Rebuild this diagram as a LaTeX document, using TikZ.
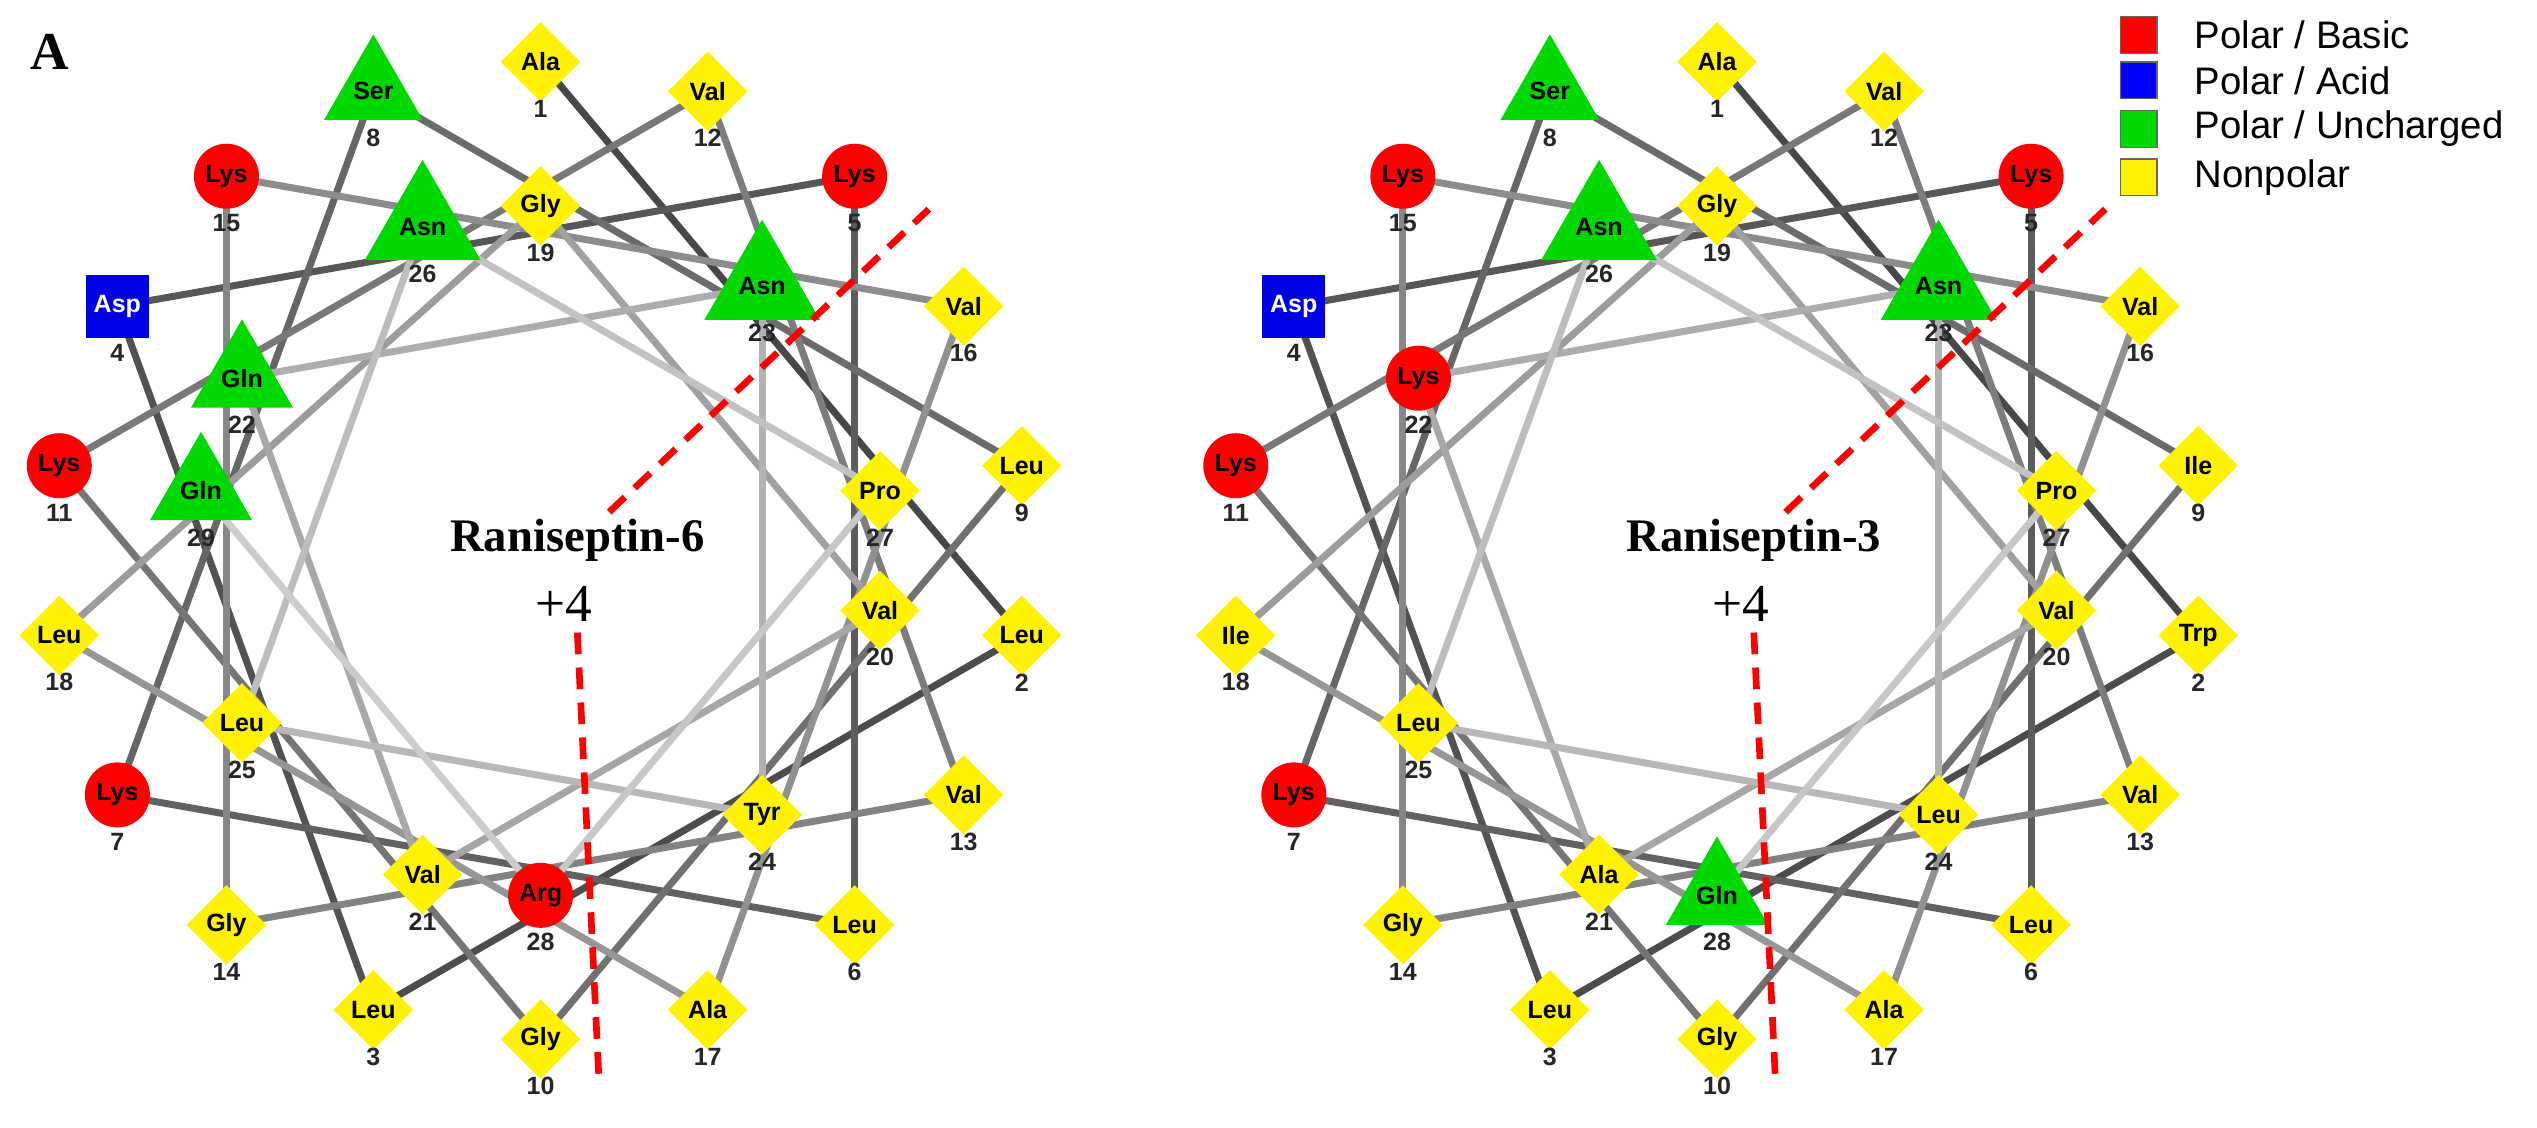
\documentclass[tikz,border=0pt]{standalone}
\usepackage{fontspec}
\setmainfont{Liberation Serif}
\newfontfamily\sansf{Liberation Sans}
\usetikzlibrary{shapes.geometric,backgrounds}
\tikzset{x=0.502pt,y=-0.502pt,
 res/.style={font=\sansf\bfseries\fontsize{7.5}{7.5}\selectfont,inner sep=0pt,text=black},
 b/.style={res,circle,fill=red,minimum size=19.5pt},
 a/.style={res,rectangle,fill=blue!90!black,minimum size=19pt,text=white},
 u/.style={res,regular polygon,regular polygon sides=3,fill=green!85!black,minimum size=26pt},
 n/.style={res,diamond,aspect=1,fill=yellow,minimum size=24pt},
 num/.style={font=\sansf\bfseries\fontsize{7.5}{7.5}\selectfont,inner sep=0pt,text=black!85},
 reddash/.style={red,line width=2pt,dash pattern=on 6.5pt off 4pt},
 leg/.style={draw=black!60,line width=0.4pt,minimum size=11pt,inner sep=0pt},
 legt/.style={font=\sansf\fontsize{11.5}{11.5}\selectfont,anchor=west,inner sep=0pt}
}
\newcommand\wheelmk[4]{% prefix, cx, count, list
 \foreach \r/\t [count=\i] in {#4}{
  \pgfmathsetmacro\ang{mod((\i-1)*100,360)}
  \pgfmathsetmacro\rr{\i<19?292:206}
  \node[\t] (#1\i) at ({#2+\rr*sin(\ang)},{329-\rr*cos(\ang)}) {\r};
  \node[num] (#1n\i) at ({#2+\rr*sin(\ang)},{357-\rr*cos(\ang)}) {\i};
 }
 \begin{scope}[on background layer]
 \foreach \i in {1,...,#3}{
  \pgfmathtruncatemacro\j{\i+1}
  \pgfmathtruncatemacro\g{72-(\i-1)*1.9}
  \draw[line width=2.1pt,black!\g] (#1\i.center) -- (#1\j.center);
 }
 \end{scope}
}
\begin{document}
\begin{tikzpicture}
\useasboundingbox (0,0) rectangle (1516,674);
\node[font=\bfseries\fontsize{16}{16}\selectfont] (A) at (30,31) {A};
\wheelmk{L}{323}{28}{Ala/n,Leu/n,Leu/n,Asp/a,Lys/b,Leu/n,Lys/b,Ser/u,Leu/n,Gly/n,Lys/b,Val/n,Val/n,Gly/n,Lys/b,Val/n,Ala/n,Leu/n,Gly/n,Val/n,Val/n,Gln/u,Asn/u,Tyr/n,Leu/n,Asn/u,Pro/n,Arg/b,Gln/u}
\wheelmk{R}{1026}{27}{Ala/n,Trp/n,Leu/n,Asp/a,Lys/b,Leu/n,Lys/b,Ser/u,Ile/n,Gly/n,Lys/b,Val/n,Val/n,Gly/n,Lys/b,Val/n,Ala/n,Ile/n,Gly/n,Val/n,Ala/n,Lys/b,Asn/u,Leu/n,Leu/n,Asn/u,Pro/n,Gln/u}
\node[font=\bfseries\fontsize{14}{14}\selectfont] (t1) at (345,323) {Raniseptin-6};
\node[font=\fontsize{16}{16}\selectfont] (p1) at (337,361) {+4};
\node[font=\bfseries\fontsize{14}{14}\selectfont] (t2) at (1048,323) {Raniseptin-3};
\node[font=\fontsize{16}{16}\selectfont] (p2) at (1040,361) {+4};
\coordinate (d1a) at (364,306); \coordinate (d1b) at (555,125);
\coordinate (d2a) at (345,378); \coordinate (d2b) at (358,647);
\coordinate (d3a) at (1067,306); \coordinate (d3b) at (1258,125);
\coordinate (d4a) at (1048,378); \coordinate (d4b) at (1061,647);
\draw[reddash] (d1a) -- (d1b); \draw[reddash] (d2a) -- (d2b);
\draw[reddash] (d3a) -- (d3b); \draw[reddash] (d4a) -- (d4b);
\node[leg,fill=red] (k1) at (1278,21) {}; \node[legt] (l1) at (1311,21) {Polar / Basic};
\node[leg,fill=blue] (k2) at (1278,48) {}; \node[legt] (l2) at (1311,48) {Polar / Acid};
\node[leg,fill=green!85!black] (k3) at (1278,77) {}; \node[legt] (l3) at (1311,77) {Polar / Uncharged};
\node[leg,fill=yellow] (k4) at (1278,106) {}; \node[legt] (l4) at (1311,106) {Nonpolar};
\end{tikzpicture}
\end{document}
